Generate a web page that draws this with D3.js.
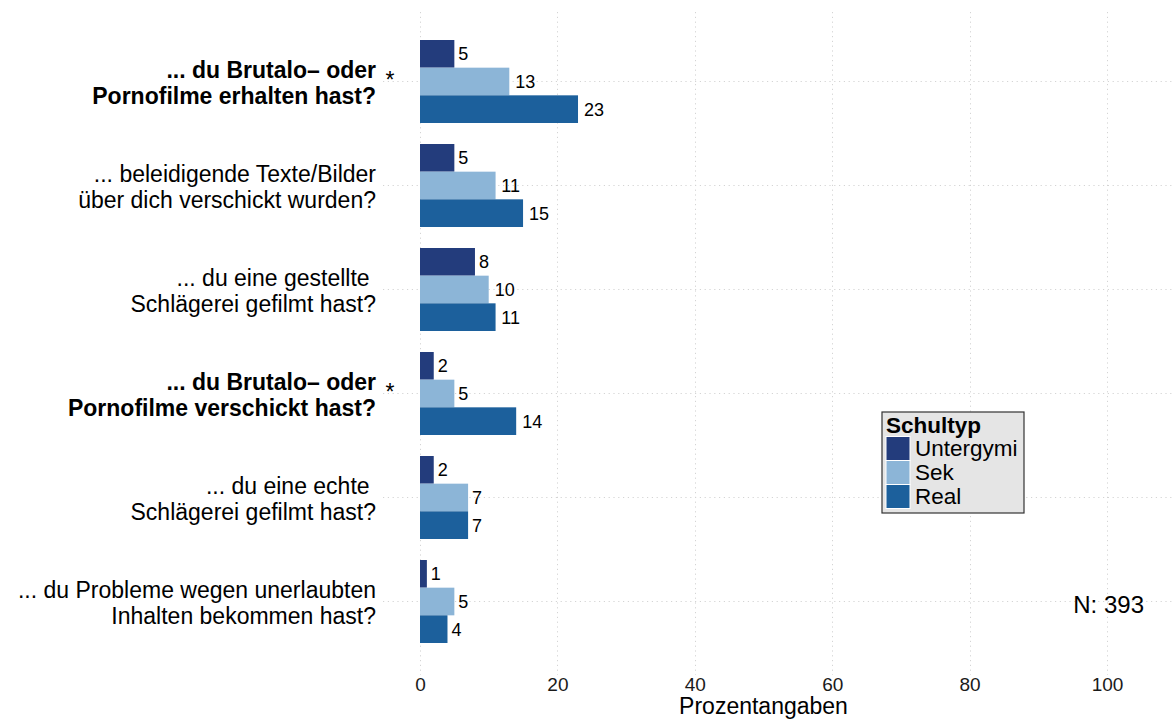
<!DOCTYPE html>
<html>
<head>
<meta charset="utf-8">
<script src="https://cdn.jsdelivr.net/npm/d3@7"></script>
<style>
  html, body { margin: 0; padding: 0; background: #fff; }
  svg { display: block; font-family: "Liberation Sans", Arial, Helvetica, sans-serif; }
  .qlabel { white-space: pre; }
</style>
</head>
<body>
<svg id="chart" width="1172" height="720"></svg>
<script>
// Question labels (two lines each), top to bottom
const categories = [
  ["... du Brutalo\u2013 oder", "Pornofilme erhalten hast?"],
  ["... beleidigende Texte/Bilder", "über dich verschickt wurden?"],
  ["... du eine gestellte ", "Schlägerei gefilmt hast?"],
  ["... du Brutalo\u2013 oder", "Pornofilme verschickt hast?"],
  ["... du eine echte ", "Schlägerei gefilmt hast?"],
  ["... du Probleme wegen unerlaubten", "Inhalten bekommen hast?"]
];
// Significant differences (bold label + asterisk)
const significant = [true, false, false, true, false, false];

// Percentages per school type
const seriesNames = ["Untergymi", "Sek", "Real"];
const untergymi = [5, 5, 8, 2, 2, 1];
const sek       = [13, 11, 10, 5, 7, 5];
const real      = [23, 15, 11, 14, 7, 4];
const seriesValues = [untergymi, sek, real];
const seriesColors = ["#233c7c", "#8cb5d7", "#1c609c"];

const xTicks = [0, 20, 40, 60, 80, 100];
const xTitle = "Prozentangaben";
const legendTitle = "Schultyp";
const sampleNote = "N: 393";

const svg = d3.select("#chart");
const catIdx = categories.map((d, i) => i);

const x = d3.scaleLinear().domain([0, 100]).range([420, 1107]);
const y = d3.scaleBand().domain(catIdx).range([29.5, 653.5]).padding(0);
const inner = d3.scaleBand().domain(seriesNames).range([0, 83]).padding(0);
const color = d3.scaleOrdinal().domain(seriesNames).range(seriesColors);

const panelTop = 12, panelBottom = 675, panelLeft = 383, panelRight = 1172;

// grid lines
const grid = svg.append("g").attr("class", "grid")
  .attr("stroke", "#d4d4d4").attr("stroke-width", 1).attr("stroke-dasharray", "1.2,3.6");
grid.selectAll("line.v").data(xTicks).join("line").attr("class", "v")
  .attr("x1", d => Math.round(x(d)) + 0.5).attr("x2", d => Math.round(x(d)) + 0.5)
  .attr("y1", panelTop).attr("y2", panelBottom);
grid.selectAll("line.h").data(catIdx).join("line").attr("class", "h")
  .attr("x1", panelLeft).attr("x2", panelRight)
  .attr("y1", d => y(d) + y.bandwidth() / 2).attr("y2", d => y(d) + y.bandwidth() / 2);

// bars
const rows = seriesNames.flatMap((s, si) =>
  catIdx.map(ci => ({ series: s, cat: ci, value: seriesValues[si][ci] })));
const barTop = d => y(d.cat) + y.bandwidth() / 2 - 41.5 + inner(d.series);

svg.append("g").selectAll("rect").data(rows).join("rect")
  .attr("x", x(0))
  .attr("y", barTop)
  .attr("width", d => x(d.value) - x(0))
  .attr("height", inner.bandwidth())
  .attr("fill", d => color(d.series));

// value labels
const valLabels = svg.append("g").selectAll("text").data(rows).join("text")
  .attr("x", d => x(d.value))
  .attr("y", d => barTop(d) + inner.bandwidth() / 2 + 6.5)
  .attr("font-size", 18)
  .attr("fill", "#000")
  .text(d => d.value);
valLabels.attr("dx", function () { return 2 + 0.2 * this.getComputedTextLength(); });

// question labels
const qLabels = svg.append("g").selectAll("text").data(catIdx).join("text")
  .attr("class", "qlabel")
  .attr("text-anchor", "end")
  .attr("font-size", 23)
  .attr("font-weight", d => significant[d] ? "bold" : "normal")
  .attr("fill", "#000");
qLabels.each(function (d) {
  const c = y(d) + y.bandwidth() / 2;
  const t = d3.select(this);
  categories[d].forEach((line, li) => {
    t.append("tspan").attr("x", 376).attr("y", c + (li === 0 ? -4 : 22)).text(line);
  });
});

// asterisks for significant items
svg.append("g").selectAll("text").data(catIdx.filter(i => significant[i])).join("text")
  .attr("x", 390).attr("y", d => y(d) + y.bandwidth() / 2 + 6)
  .attr("text-anchor", "middle").attr("font-size", 23).attr("fill", "#000")
  .text("*");

// x axis (labels only)
const xAxis = d3.axisBottom(x).tickValues(xTicks).tickSize(0).tickPadding(0);
const ax = svg.append("g").attr("transform", `translate(0,${677})`).call(xAxis);
ax.select(".domain").remove();
ax.selectAll("text").attr("font-size", 19).attr("fill", "#1a1a1a")
  .attr("font-family", "Liberation Sans, Arial, sans-serif");

svg.append("text").attr("x", (x(0) + x(100)) / 2).attr("y", 714)
  .attr("text-anchor", "middle").attr("font-size", 23).attr("fill", "#000")
  .text(xTitle);

// sample size note
svg.append("text").attr("x", 1144).attr("y", 613).attr("text-anchor", "end")
  .attr("font-size", 24).attr("fill", "#000").text(sampleNote);

// legend
const lg = svg.append("g").attr("transform", "translate(882,412)");
lg.append("rect").attr("x", 0).attr("y", 0).attr("width", 142).attr("height", 101)
  .attr("fill", "#e5e5e5").attr("stroke", "#333").attr("stroke-width", 1.2);
lg.append("text").attr("x", 4).attr("y", 21).attr("font-size", 22.5).attr("font-weight", "bold")
  .attr("fill", "#000").text(legendTitle);
const li = lg.selectAll("g.item").data(seriesNames).join("g").attr("class", "item")
  .attr("transform", (d, i) => `translate(4,${24.5 + i * 24})`);
li.append("rect").attr("width", 24).attr("height", 24).attr("fill", d => color(d))
  .attr("stroke", "#fff").attr("stroke-width", 1);
li.append("text").attr("x", 29).attr("y", 19.5).attr("font-size", 22.5).attr("fill", "#000")
  .text(d => d);
</script>
</body>
</html>
